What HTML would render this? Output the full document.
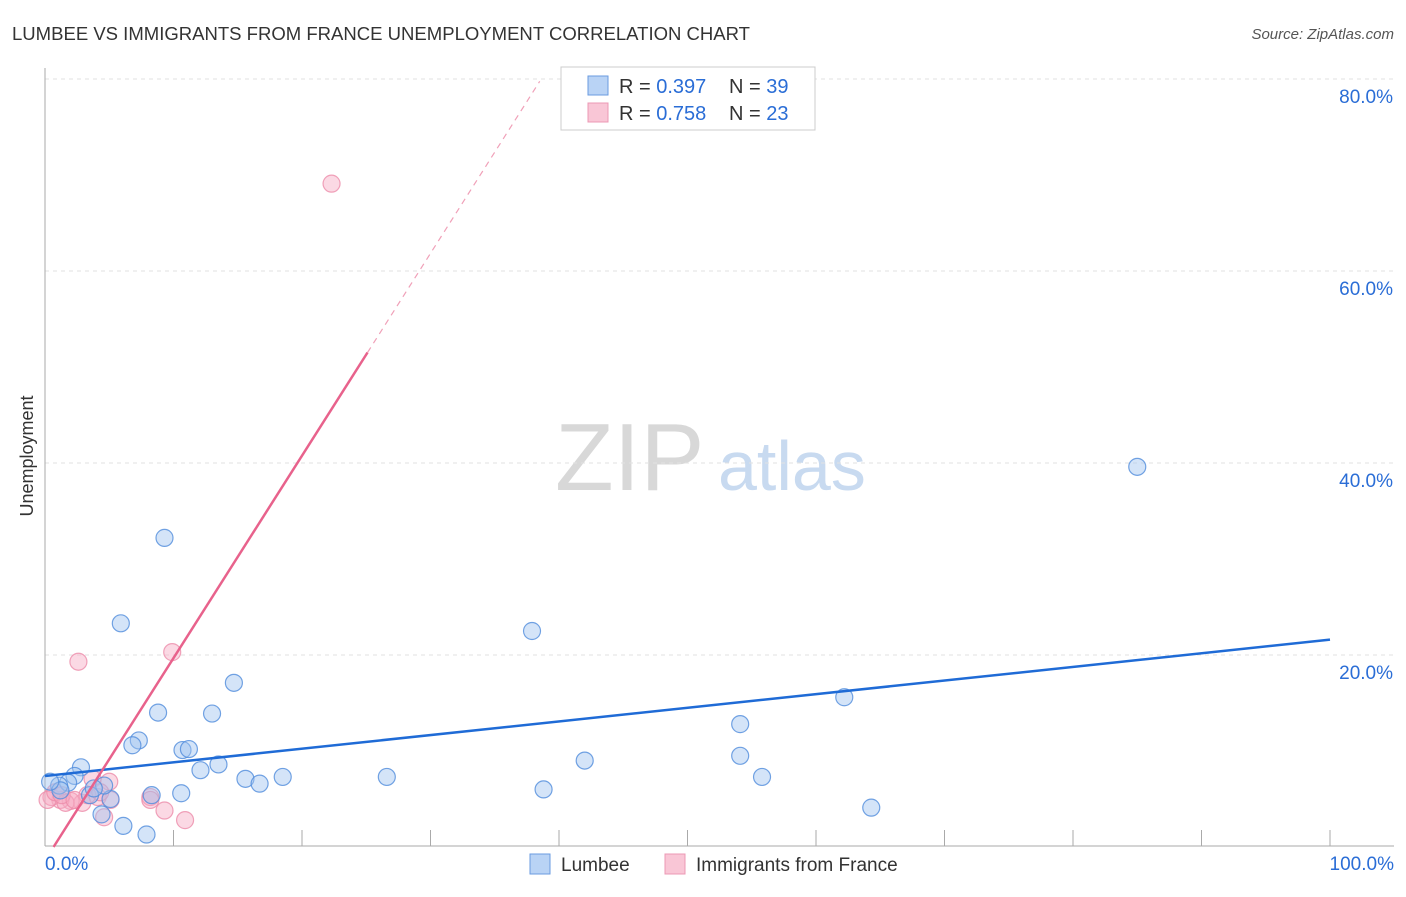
<!DOCTYPE html>
<html><head><meta charset="utf-8"><style>
body{margin:0;background:#fff;font-family:"Liberation Sans",sans-serif;}
svg text{font-family:"Liberation Sans",sans-serif;}
</style></head><body>
<svg id="c" width="1406" height="892">
<text x="12" y="40" font-size="18" fill="#333" textLength="738" lengthAdjust="spacingAndGlyphs">LUMBEE VS IMMIGRANTS FROM FRANCE UNEMPLOYMENT CORRELATION CHART</text>
<text x="1394" y="39" font-size="15" fill="#555" text-anchor="end" font-style="italic">Source: ZipAtlas.com</text>
<text x="33" y="456" font-size="18" fill="#333" text-anchor="middle" transform="rotate(-90 33 456)">Unemployment</text>
<text x="555" y="490" font-size="96" fill="#d8d8d8" font-family="Liberation Serif">ZIP</text>
<text x="718" y="490" font-size="70" fill="#c8daf0">atlas</text>
<g id="grid"></g><g id="marks"></g>
<g>
<rect x="561" y="67" width="254" height="63" fill="#fff" stroke="#ccc"/>
<rect x="588" y="76" width="20" height="19" fill="#b9d3f5" stroke="#6a9be0"/>
<rect x="588" y="103" width="20" height="19" fill="#f9c6d6" stroke="#ec98b4"/>
<text x="619" y="93" font-size="20" fill="#333">R = <tspan fill="#2a6dd6">0.397</tspan></text>
<text x="729" y="93" font-size="20" fill="#333">N = <tspan fill="#2a6dd6">39</tspan></text>
<text x="619" y="120" font-size="20" fill="#333">R = <tspan fill="#2a6dd6">0.758</tspan></text>
<text x="729" y="120" font-size="20" fill="#333">N = <tspan fill="#2a6dd6">23</tspan></text>
</g>
<g>
<rect x="530" y="854" width="20" height="20" fill="#b9d3f5" stroke="#6a9be0"/>
<text x="561" y="871" font-size="19" fill="#333">Lumbee</text>
<rect x="665" y="854" width="20" height="20" fill="#f9c6d6" stroke="#ec98b4"/>
<text x="696" y="871" font-size="19" fill="#333">Immigrants from France</text>
</g>
</svg>
<script>
const lumbeeX=[9.3,5.9,37.9,85.0,14.7,8.8,13.0,7.3,6.8,10.7,11.2,13.5,12.1,15.6,16.7,18.5,26.6,42.0,54.1,54.1,55.8,62.2,64.3,38.8,10.6,8.3,6.1,7.9,4.4,5.1,4.6,2.8,2.3,1.8,1.1,1.2,3.5,0.4,3.8];
const lumbeeY=[32.2,23.3,22.5,39.6,17.1,14.0,13.9,11.1,10.6,10.1,10.2,8.6,8.0,7.1,6.6,7.3,7.3,9.0,12.8,9.5,7.3,15.6,4.1,6.0,5.6,5.4,2.2,1.3,3.4,5.0,6.4,8.3,7.4,6.7,6.4,5.9,5.4,6.8,6.1];
const franceX=[22.3,2.6,9.9,5.0,3.7,8.2,9.3,10.9,4.6,2.9,2.0,1.2,0.5,0.2,0.8,1.6,4.1,3.3,5.1,8.2,1.3,2.3,4.3];
const franceY=[69.1,19.3,20.3,6.8,7.1,5.2,3.8,2.8,3.1,4.6,4.8,4.9,5.2,4.9,5.7,4.6,5.2,5.4,4.9,4.9,5.4,4.9,5.7];
const yTicks=[20,40,60,80];
const xTickLabels=["0.0%","100.0%"];
const lumbeeTrend=[7.4,21.6];
const franceTrend={intercept:-1.4,slope:2.108,solidEnd:25.1,dashEnd:38.5};
const NS="http://www.w3.org/2000/svg";
const sx=v=>45+v*12.85, sy=v=>847-v*9.6;
const grid=document.getElementById('grid'), marks=document.getElementById('marks');
function mk(tag,attrs,parent){const e=document.createElementNS(NS,tag);for(const k in attrs)e.setAttribute(k,attrs[k]);parent.appendChild(e);return e;}
yTicks.forEach(t=>{
 const l=mk('line',{x1:45,x2:1394,y1:sy(t),y2:sy(t),stroke:'#e2e2e2','stroke-dasharray':'4 4'},grid);
 
 
 const tx=mk('text',{x:1393,y:sy(t)+24,'font-size':19,fill:'#2a6dd6','text-anchor':'end'},grid);
 tx.textContent=t.toFixed(1)+'%';
 
 
});
const ax=mk('line',{x1:45,x2:45,y1:68,y2:846,stroke:'#aaa'},grid);


const bx=mk('line',{x1:45,x2:1394,y1:846,y2:846,stroke:'#aaa'},grid);


for(let i=1;i<=10;i++){const x=sx(i*10);const t=mk('line',{x1:x,x2:x,y1:830,y2:846,stroke:'#aaa'},grid);
 
 }
[[0,'start',45],[1,'end',1394]].forEach(([i,a,x])=>{const t=mk('text',{x:x,y:870,'font-size':19,fill:'#2a6dd6','text-anchor':a},grid);t.textContent=xTickLabels[i];
 
 });
franceX.forEach((x,i)=>{const c=mk('circle',{cx:sx(x),cy:sy(franceY[i]),r:8.5,fill:'rgba(246,170,195,0.45)',stroke:'rgba(236,140,170,0.8)','stroke-width':1.2},marks);
 
 });
lumbeeX.forEach((x,i)=>{const c=mk('circle',{cx:sx(x),cy:sy(lumbeeY[i]),r:8.5,fill:'rgba(160,195,240,0.45)',stroke:'rgba(80,140,220,0.8)','stroke-width':1.2},marks);
 
 });
const lt=mk('line',{x1:sx(0),y1:sy(lumbeeTrend[0]),x2:sx(100),y2:sy(lumbeeTrend[1]),stroke:'#1f6bd6','stroke-width':2.5},marks);


const f=x=>franceTrend.intercept+franceTrend.slope*x;
const x0=(0-franceTrend.intercept)/franceTrend.slope;
const ft=mk('line',{x1:sx(x0),y1:sy(0),x2:sx(franceTrend.solidEnd),y2:sy(f(franceTrend.solidEnd)),stroke:'#e8628c','stroke-width':2.5},marks);


const fd=mk('line',{x1:sx(franceTrend.solidEnd),y1:sy(f(franceTrend.solidEnd)),x2:sx(franceTrend.dashEnd),y2:sy(f(franceTrend.dashEnd)),stroke:'#f0a0b8','stroke-width':1.2,'stroke-dasharray':'6 5'},marks);


</script>
</body></html>
